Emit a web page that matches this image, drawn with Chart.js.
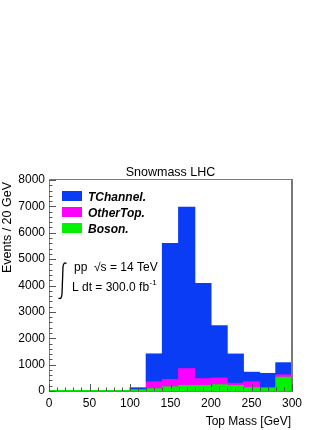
<!DOCTYPE html>
<html>
<head>
<meta charset="utf-8">
<script src="https://cdn.jsdelivr.net/npm/chart.js@4.4.1/dist/chart.umd.min.js"></script>
<style>
  html, body { margin: 0; padding: 0; background: #fff; }
  #wrap { width: 332px; height: 430px; position: relative; }
</style>
</head>
<body>
<div id="wrap"><canvas id="c" width="332" height="430"></canvas></div>
<script>
  // bin centres of the 20 GeV histogram bins (top mass, GeV)
  const binCenters = [10, 30, 50, 70, 90, 110, 130, 150, 170, 190, 210, 230, 250, 270, 290];
  // stacked contributions, events per bin
  const boson = [20, 20, 20, 20, 20, 40, 85, 155, 210, 210, 235, 210, 130, 105, 520];
  const otherTop = [0, 0, 0, 0, 0, 0, 260, 280, 635, 255, 255, 80, 215, 20, 90];
  const tChannel = [0, 0, 0, 0, 0, 80, 1060, 5160, 6125, 3615, 1980, 1110, 365, 540, 460];

  const seriesNames = ["TChannel.", "OtherTop.", "Boson."];
  const palette = { TChannel: "#0a3cf5", OtherTop: "#ff00ff", Boson: "#00f200" };

  const xTitle = "Top Mass [GeV]";
  const yTitle = "Events / 20 GeV";
  const chartTitle = "Snowmass LHC";

  const FONT = "'Liberation Sans', Arial, Helvetica, sans-serif";

  function pts(values) {
    return values.map((v, i) => ({ x: binCenters[i], y: v }));
  }

  const rootStyle = {
    id: "rootStyle",
    afterDraw(chart) {
      const ctx = chart.ctx;
      const a = chart.chartArea;
      const xs = chart.scales.x;
      const ys = chart.scales.y;
      ctx.save();

      // frame
      ctx.strokeStyle = "#7a7a7a";
      ctx.lineWidth = 1;
      ctx.beginPath();
      ctx.moveTo(a.left + 0.5, a.bottom + 0.5);
      ctx.lineTo(a.left + 0.5, a.top - 0.5);
      ctx.lineTo(a.right, a.top - 0.5);
      ctx.moveTo(a.left, a.bottom + 0.5);
      ctx.lineTo(a.right, a.bottom + 0.5);
      ctx.stroke();
      ctx.lineWidth = 2;
      ctx.beginPath();
      ctx.moveTo(a.right, a.top - 1);
      ctx.lineTo(a.right, a.bottom + 1);
      ctx.stroke();

      // inward ticks, ROOT style
      ctx.strokeStyle = "#555";
      ctx.lineWidth = 1;
      ctx.beginPath();
      for (let v = xs.min; v <= xs.max; v += 10) {
        const px = Math.round(xs.getPixelForValue(v)) + 0.5;
        const len = v % 50 === 0 ? 7 : 3.5;
        ctx.moveTo(px, a.bottom);
        ctx.lineTo(px, a.bottom - len);
      }
      for (let v = ys.min; v <= ys.max; v += 200) {
        const py = Math.round(ys.getPixelForValue(v)) + 0.5;
        const len = v % 1000 === 0 ? 7 : 3.5;
        ctx.moveTo(a.left, py);
        ctx.lineTo(a.left + len, py);
      }
      ctx.stroke();

      ctx.fillStyle = "#000";
      // title
      ctx.font = "12.5px " + FONT;
      ctx.textAlign = "center";
      ctx.textBaseline = "alphabetic";
      ctx.fillText(chartTitle, (a.left + a.right) / 2, 176);

      // x title
      ctx.font = "12px " + FONT;
      ctx.textAlign = "right";
      ctx.fillText(xTitle, a.right - 1, 425);

      // y title
      ctx.save();
      ctx.translate(11, a.top + 2);
      ctx.rotate(-Math.PI / 2);
      ctx.font = "12.5px " + FONT;
      ctx.textAlign = "right";
      ctx.fillText(yTitle, 0, 0);
      ctx.restore();

      // legend
      const legendColors = [palette.TChannel, palette.OtherTop, palette.Boson];
      const rowY = [196, 212, 228];
      ctx.font = "bold italic 12px " + FONT;
      ctx.textAlign = "left";
      seriesNames.forEach((name, i) => {
        ctx.fillStyle = legendColors[i];
        ctx.fillRect(62, rowY[i] - 5, 20, 10);
        ctx.fillStyle = "#000";
        ctx.fillText(name, 88, rowY[i] + 4.5);
      });

      // luminosity annotation: integral sign drawn as a stroke
      ctx.strokeStyle = "#000";
      ctx.lineWidth = 1.3;
      ctx.beginPath();
      ctx.moveTo(66.5, 263.5);
      ctx.quadraticCurveTo(63.5, 261.5, 63, 267);
      ctx.lineTo(62, 294);
      ctx.quadraticCurveTo(61.5, 300, 58.5, 298);
      ctx.stroke();
      ctx.font = "12px " + FONT;
      ctx.fillText("pp  \u221As = 14 TeV", 74, 271);
      const line2 = "L dt = 300.0 fb";
      ctx.fillText(line2, 72, 291);
      const w2 = ctx.measureText(line2).width;
      ctx.font = "8px " + FONT;
      ctx.fillText("-1", 72 + w2 + 0.5, 285);

      ctx.restore();
    },
  };

  new Chart(document.getElementById("c"), {
    type: "bar",
    data: {
      datasets: [
        { label: "Boson.", data: pts(boson), backgroundColor: palette.Boson },
        { label: "OtherTop.", data: pts(otherTop), backgroundColor: palette.OtherTop },
        { label: "TChannel.", data: pts(tChannel), backgroundColor: palette.TChannel },
      ],
    },
    options: {
      responsive: false,
      animation: false,
      devicePixelRatio: 1,
      layout: { padding: { top: 180, right: 40, left: 0, bottom: 0 } },
      datasets: {
        bar: { barPercentage: 1, categoryPercentage: 1, borderWidth: 0, inflateAmount: 0.5 },
      },
      scales: {
        x: {
          type: "linear",
          min: 0,
          max: 300,
          offset: false,
          stacked: true,
          grid: { display: false, drawTicks: false },
          border: { display: false },
          ticks: {
            stepSize: 50, padding: 5, maxRotation: 0, color: "#000",
            font: { family: FONT, size: 12 },
            callback: (v) => String(v),
          },
          afterFit(s) { s.height = 39; },
        },
        y: {
          stacked: true,
          min: 0,
          max: 8000,
          grid: { display: false, drawTicks: false },
          border: { display: false },
          ticks: {
            stepSize: 1000, padding: 4, color: "#000",
            font: { family: FONT, size: 12 },
            callback: (v) => String(v),
          },
          afterFit(s) { s.width = 49; },
        },
      },
      plugins: {
        legend: { display: false },
        tooltip: { enabled: false },
        title: { display: false },
      },
    },
    plugins: [rootStyle],
  });
</script>
</body>
</html>
